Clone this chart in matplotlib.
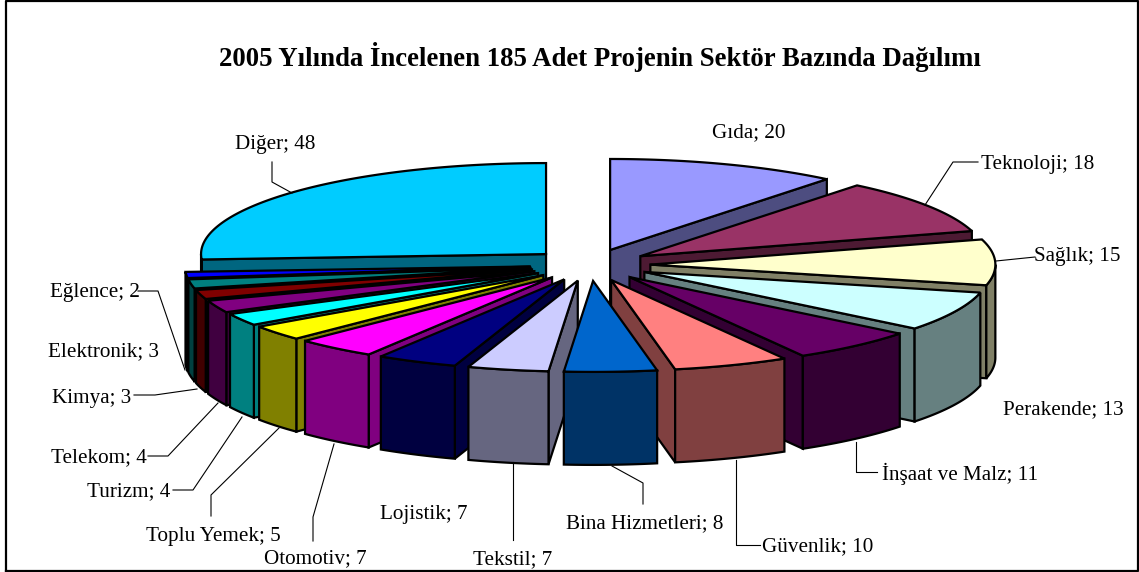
import numpy as np
import matplotlib
matplotlib.use("Agg")
import matplotlib.pyplot as plt
from matplotlib.colors import to_rgb

# dati
sektorler = ["Gıda", "Teknoloji", "Sağlık", "Perakende", "İnşaat ve Malz", "Güvenlik",
             "Bina Hizmetleri", "Tekstil", "Lojistik", "Otomotiv", "Toplu Yemek",
             "Turizm", "Telekom", "Kimya", "Elektronik", "Eğlence", "Diğer"]
adet = [20, 18, 15, 13, 11, 10, 8, 7, 7, 7, 5, 4, 4, 3, 3, 2, 48]
renkler = ["#9999FF", "#993366", "#FFFFCC", "#CCFFFF", "#660066", "#FF8080",
           "#0066CC", "#CCCCFF", "#000080", "#FF00FF", "#FFFF00",
           "#00FFFF", "#800080", "#800000", "#008080", "#0000FF", "#00CCFF"]
baslik = "2005 Yılında İncelenen 185 Adet Projenin Sektör Bazında Dağılımı"

# posizione del centro delle etichette (pixel)
etiket_xy = [(749, 133), (1038, 164), (1077, 256), (1063, 410), (960, 474), (818, 547),
             (645, 524), (513, 560), (424, 515), (315, 559), (213, 537),
             (129, 492), (99, 458), (92, 398), (103, 352), (95, 293), (275, 145)]

# linee guida
kilavuz = [None,
           [(925, 205), (953, 162), (978, 162)],
           [(996, 261), (1035, 257)],
           None,
           [(856, 442), (856, 472), (877, 472)],
           [(736, 460), (736, 545), (760, 545)],
           [(612, 466), (643, 483), (643, 504)],
           [(513, 462), (513, 540)],
           None,
           [(334, 444), (313, 517), (313, 541)],
           [(279, 428), (211, 495), (211, 516)],
           [(242, 417), (193, 490), (173, 490)],
           [(218, 403), (168, 456), (148, 456)],
           [(197, 389), (155, 395), (134, 395)],
           None,
           [(185, 370), (158, 291), (138, 291)],
           [(272, 162), (272, 182), (292, 193)]]

# geometria della torta
cx, cy = 590, 265
Rx, Ry = 345, 91
patlama = 0.175
h = 93

fig = plt.figure(figsize=(11.39, 5.72), dpi=100)
ax = fig.add_axes([0, 0, 1, 1])
ax.set_xlim(0, 1139)
ax.set_ylim(572, 0)
ax.axis("off")


def proietta(th, x0, y0):
    return x0 + Rx * np.sin(th), y0 - Ry * np.cos(th)


def poligono(xs, ys, col):
    ax.fill(xs, ys, facecolor=col, edgecolor="black", linewidth=1.6, joinstyle="miter")


cum = np.cumsum([0] + adet)
angoli = 2 * np.pi * cum / cum[-1]
medi = (angoli[:-1] + angoli[1:]) / 2

# dal fondo verso il davanti
for i in np.argsort(-np.cos(medi)):
    t1, t2 = angoli[i], angoli[i + 1]
    m = medi[i]
    x0 = cx + patlama * Rx * np.sin(m)
    y0 = cy - patlama * Ry * np.cos(m)
    chiaro = np.array(to_rgb(renkler[i]))
    scuro = chiaro * 0.5

    # pareti radiali, solo quelle visibili
    for t, visibile in ((t1, np.sin(t1) < 0), (t2, np.sin(t2) > 0)):
        if visibile:
            xe, ye = proietta(t, x0, y0)
            poligono([x0, xe, xe, x0], [y0, ye, ye + h, y0 + h], scuro)

    # parete esterna, solo la parte rivolta verso chi guarda
    a = max(t1, np.pi / 2)
    b = min(t2, 3 * np.pi / 2)
    if b > a:
        th = np.linspace(a, b, 60)
        xa, ya = proietta(th, x0, y0)
        poligono(np.r_[xa, xa[::-1]], np.r_[ya, ya[::-1] + h], scuro)

    # faccia superiore
    th = np.linspace(t1, t2, 120)
    xa, ya = proietta(th, x0, y0)
    poligono(np.r_[x0, xa], np.r_[y0, ya], chiaro)

for i, nome in enumerate(sektorler):
    if kilavuz[i] is not None:
        xs, ys = zip(*kilavuz[i])
        ax.plot(xs, ys, color="black", linewidth=0.8)
    ax.text(etiket_xy[i][0], etiket_xy[i][1], f"{nome}; {adet[i]}", ha="center", va="center",
            family="Liberation Serif", fontsize=15.2, color="black")

ax.text(600, 57, baslik, ha="center", va="center", family="Liberation Serif",
        fontsize=19.3, fontweight="bold", color="black")

# cornice
ax.plot([6, 6, 1137.5, 1137.5, 6], [571, 0.5, 0.5, 571, 571], color="black", linewidth=1.6)

fig.savefig("out.png", dpi=100)
